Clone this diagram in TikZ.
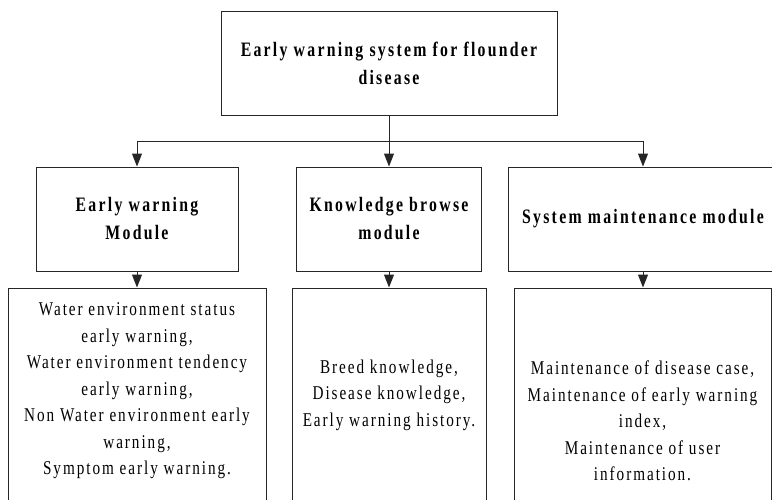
\documentclass[tikz,border=0pt]{standalone}
\usepackage{fontspec}
\setmainfont{Liberation Serif}
\newfontfamily\hdfont[FakeStretch=0.77,LetterSpace=11]{Liberation Serif}
\newfontfamily\bdfont[FakeStretch=0.78,LetterSpace=10]{Liberation Serif}
\usetikzlibrary{arrows.meta}
\begin{document}
\begin{tikzpicture}[x=1pt,y=-1pt,
  box/.style={draw=black!85,line width=1pt,rectangle,inner sep=0pt,minimum height=104pt,align=center,
    font=\hdfont\bfseries\fontsize{20.5}{28}\selectfont},
  detail/.style={draw=black!85,line width=1pt,rectangle,inner sep=0pt,minimum height=214pt},
  body/.style={align=center,inner sep=0pt,font=\bdfont\fontsize{19.5}{26.5}\selectfont},
  conn/.style={line width=1pt,black!85},
  arr/.style={conn,-{Triangle[length=13pt,width=10pt]}}]
\useasboundingbox (0,0) rectangle (772,499);
\clip (0,0) rectangle (772,499);
\node[box,minimum width=336pt] (top) at (389,63) {Early warning system for flounder\\disease};
\node[box,minimum width=202pt] (m1) at (137,219) {Early warning\\Module};
\node[box,minimum width=185pt] (m2) at (389,219) {Knowledge browse\\module};
\node[box,minimum width=270pt] (m3) at (643,219) {System maintenance module};
\node[detail,minimum width=258pt] (d1) at (137,395) {};
\node[detail,minimum width=194pt] (d2) at (389,395) {};
\node[detail,minimum width=257pt] (d3) at (642.5,395) {};
\node[body] (t1) at (137,391) {Water environment status\\early warning,\\Water environment tendency\\early warning,\\Non Water environment early\\warning,\\Symptom early warning.};
\node[body] (t2) at (389,395) {Breed knowledge,\\Disease knowledge,\\Early warning history.};
\node[body] (t3) at (642.5,421) {Maintenance of disease case,\\Maintenance of early warning\\index,\\Maintenance of user\\information.};
\coordinate (bus) at (389,141);
\draw[conn] (top.south) -- (bus);
\draw[conn] (m1.north |- bus) -- (m3.north |- bus);
\draw[arr] (m1.north |- bus) -- (m1.north);
\draw[arr] (bus) -- (m2.north);
\draw[arr] (m3.north |- bus) -- (m3.north);
\draw[arr] (m1.south) -- (m1.south |- d1.north);
\draw[arr] (m2.south) -- (m2.south |- d2.north);
\draw[arr] (m3.south) -- (m3.south |- d3.north);
\end{tikzpicture}
\end{document}
